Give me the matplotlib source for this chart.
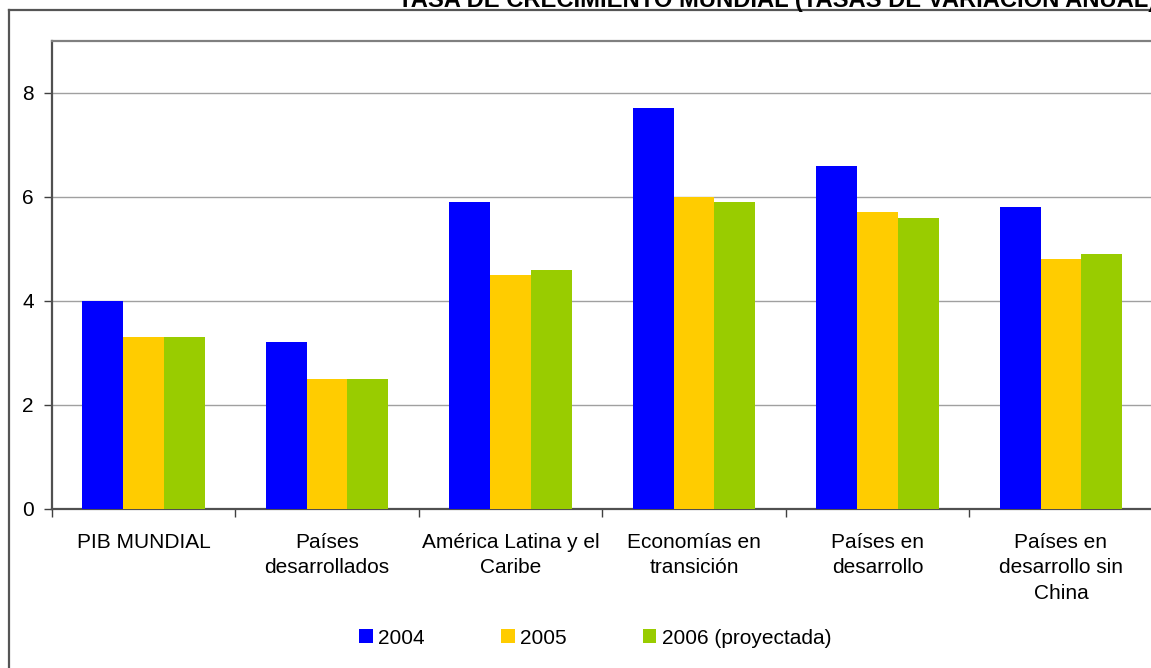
import numpy as np
import matplotlib.pyplot as plt
from matplotlib.lines import Line2D
from matplotlib.patches import Patch

plt.rcParams['font.family'] = ['Liberation Sans', 'DejaVu Sans']

categorias = ['PIB MUNDIAL', 'Países\ndesarrollados', 'América Latina y el\nCaribe',
              'Economías en\ntransición', 'Países en\ndesarrollo', 'Países en\ndesarrollo sin\nChina']
series = ['2004', '2005', '2006 (proyectada)']
v2004 = [4.0, 3.2, 5.9, 7.7, 6.6, 5.8]
v2005 = [3.3, 2.5, 4.5, 6.0, 5.7, 4.8]
v2006 = [3.3, 2.5, 4.6, 5.9, 5.6, 4.9]
colores = ['#0000FF', '#FFCC00', '#99CC00']
yticks = [0, 2, 4, 6, 8]

W, H = 1151, 668
fig = plt.figure(figsize=(W / 100, H / 100), dpi=100)
ax = fig.add_axes([51.7 / W, 1 - 509 / H, 1101 / W, (509 - 40.7) / H])

x = np.arange(len(categorias))
w = 2 / 9
for k, (vals, col) in enumerate(zip([v2004, v2005, v2006], colores)):
    ax.bar(x + (k - 1) * w, vals, width=w, color=col, linewidth=0, zorder=3)

ax.set_xlim(-0.5, len(categorias) - 0.5)
ax.set_ylim(0, 9)
ax.set_yticks(yticks)
ax.set_yticklabels([str(t) for t in yticks])
ax.yaxis.grid(True, color='#a0a0a0', linewidth=1.0, zorder=0)

ax.set_xticks(x)
ax.set_xticklabels(categorias, linespacing=1.45)
ax.set_xticks(np.arange(len(categorias)) - 0.5, minor=True)
ax.tick_params(axis='x', which='major', length=0, pad=17, labelsize=15)
ax.tick_params(axis='x', which='minor', length=6, width=1, color='#404040', direction='out')
ax.tick_params(axis='y', length=6, width=1, color='#404040', pad=7, labelsize=15)

for s in ['left', 'bottom']:
    ax.spines[s].set_color('#505050')
    ax.spines[s].set_linewidth(1.6)
ax.spines['top'].set_color('#808080')
ax.spines['top'].set_linewidth(1.6)
ax.spines['right'].set_visible(False)

# marco exterior del gráfico
fig.add_artist(Line2D([9 / W, 9 / W], [0, 1 - 10 / H], color='#555555', linewidth=1.6,
                      transform=fig.transFigure))
fig.add_artist(Line2D([9 / W, 1], [1 - 10 / H, 1 - 10 / H], color='#555555', linewidth=1.6,
                      transform=fig.transFigure))

fig.text(398 / W, 1 - 7 / H, 'TASA DE CRECIMIENTO MUNDIAL (TASAS DE VARIACIÓN ANUAL)',
         fontsize=17.1, fontweight='bold', ha='left', va='baseline')

handles = [Patch(facecolor=c, edgecolor='none') for c in colores]
fig.legend(handles, series, loc='center', bbox_to_anchor=(595 / W, 1 - 638 / H), ncol=3,
           frameon=False, fontsize=15, handlelength=0.67, handleheight=0.67,
           handletextpad=0.25, columnspacing=3.65)

fig.savefig('out.png', dpi=100)
